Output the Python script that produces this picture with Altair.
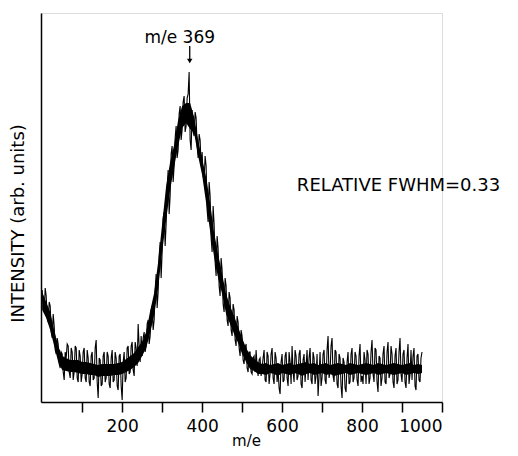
import altair as alt
import pandas as pd

# ---- trace samples (m/e, intensity in arb. units) ----
mass = list(range(0, 955, 5))
intensity = [
    112, 90, 106, 80, 96, 64, 76, 48, 58, 34,      # 0-45
    48, 22, 44, 56, 24, 50, 30, 54, 20, 46,        # 50-95
    28, 54, 20, 44, 16, 50, 24, 62, 4, 42,         # 100-145
    18, 50, 24, 46, 14, 52, 22, 44, 12, 48,        # 150-195
    2, 50, 24, 56, 30, 60, 26, 54, 78, 40,         # 200-245
    46, 70, 56, 82, 66, 96, 82, 128, 110, 160,     # 250-295
    150, 190, 178, 232, 206, 256, 236, 276, 252, 296,  # 300-345
    272, 306, 276, 308, 262, 292, 266, 284, 244, 262,  # 350-395
    250, 222, 236, 180, 206, 150, 178, 126, 154, 106,  # 400-445
    132, 90, 116, 76, 104, 66, 92, 56, 80, 46,     # 450-495
    66, 38, 58, 30, 50, 28, 46, 52, 26, 44,        # 500-545
    34, 52, 20, 46, 28, 54, 18, 44, 32, 8,         # 550-595
    48, 22, 50, 16, 40, 56, 20, 46, 26, 52,        # 600-645
    14, 48, 36, 22, 54, 18, 44, 26, 6, 50,         # 650-695
    24, 52, 18, 66, 30, 64, 20, 50, 14, 44,        # 700-745
    4, 40, 10, 50, 20, 54, 24, 46, 16, 58,         # 750-795
    26, 50, 18, 48, 24, 62, 20, 52, 10, 44,        # 800-845
    24, 56, 18, 60, 28, 48, 14, 54, 22, 64,        # 850-895
    20, 52, 14, 58, 28, 22, 54, 12, 48, 20,        # 900-945
    50,                                            # 950
]

# intermediate samples (m/e 2.5, 7.5, ... 947.5)
mass_mid = [m + 2.5 for m in range(0, 950, 5)]
intensity_mid = [
    94, 114, 84, 100, 70, 88, 52, 64, 38, 50,      # 2.5-47.5
    30, 50, 58, 30, 54, 22, 56, 24, 52, 20,        # 52.5-97.5
    50, 24, 52, 20, 46, 22, 54, 20, 44, 16,        # 102.5-147.5
    46, 20, 50, 18, 44, 20, 50, 16, 46, 16,        # 152.5-197.5
    40, 20, 54, 28, 56, 32, 60, 36, 56, 66,        # 202.5-247.5
    64, 50, 78, 58, 92, 72, 112, 94, 146, 124,     # 252.5-297.5
    184, 156, 214, 188, 248, 220, 264, 244, 288, 262,  # 302.5-347.5
    300, 270, 304, 330, 252, 270, 290, 256, 268, 236,  # 352.5-397.5
    226, 246, 192, 220, 164, 196, 140, 166, 116, 144,  # 402.5-447.5
    98, 124, 82, 110, 72, 98, 62, 86, 54, 72,      # 452.5-497.5
    42, 54, 34, 50, 30, 44, 30, 36, 42, 26,        # 502.5-547.5
    44, 22, 50, 18, 48, 24, 50, 20, 14, 40,        # 552.5-597.5
    20, 46, 24, 50, 18, 30, 52, 22, 48, 18,        # 602.5-647.5
    42, 20, 52, 44, 22, 50, 18, 48, 26, 16,        # 652.5-697.5
    48, 22, 52, 24, 56, 26, 52, 18, 48, 16,        # 702.5-747.5
    44, 14, 40, 18, 48, 20, 50, 22, 46, 20,        # 752.5-797.5
    18, 42, 52, 18, 50, 28, 54, 20, 46, 16,        # 802.5-847.5
    48, 20, 50, 24, 56, 20, 46, 18, 50, 28,        # 852.5-897.5
    48, 20, 44, 18, 52, 46, 16, 46, 22, 44,        # 902.5-947.5
]

# dense core of the noisy trace (lower / upper edge of the solid black band), every 10 m/e
band_mass = list(range(0, 960, 10))
band_low = [
    92, 84, 72, 56, 40, 32, 31, 30, 30, 29,        # 0-90
    28, 28, 27, 27, 25, 26, 26, 26, 27, 27,        # 100-190
    28, 30, 32, 35, 39, 46, 54, 69, 87, 114,       # 200-290
    150, 182, 212, 235, 256, 274, 279, 273, 269, 246,  # 300-390
    227, 199, 171, 145, 124, 108, 88, 78, 68, 59,  # 400-490
    48, 40, 33, 31, 28,                            # 500-540
    28, 27, 29, 28, 26, 29, 28, 27, 29, 28,        # 550-640
    26, 28, 29, 27, 28, 29, 27, 28, 26, 27,        # 650-740
    28, 29, 27, 28, 29, 28, 27, 28, 29, 27,        # 750-840
    28, 29, 28, 27, 28, 29, 27, 28, 29, 28,        # 850-940
    29,                                            # 950
]
band_high = [
    110, 100, 90, 72, 56, 46, 44, 42, 42, 42,      # 0-90
    40, 40, 39, 38, 37, 38, 38, 38, 38, 39,        # 100-190
    40, 43, 46, 49, 55, 60, 70, 91, 109, 140,      # 200-290
    178, 216, 240, 257, 282, 296, 299, 299, 285, 262,  # 300-390
    243, 225, 199, 169, 148, 128, 108, 96, 86, 75,     # 400-490
    64, 54, 47, 43, 40,                            # 500-540
    38, 39, 37, 38, 39, 37, 38, 39, 37, 38,        # 550-640
    39, 40, 38, 39, 37, 38, 39, 37, 38, 39,        # 650-740
    38, 37, 39, 38, 37, 38, 39, 38, 37, 39,        # 750-840
    38, 37, 38, 39, 38, 37, 38, 39, 37, 38,        # 850-940
    37,                                            # 950
]

tick_values = [100, 200, 300, 400, 500, 600, 700, 800, 900, 1000]
peak_label = "m/e 369"
peak_mass = 369
fwhm_label = "RELATIVE FWHM=0.33"

FONT = "DejaVu Sans"

df = pd.concat(
    [
        pd.DataFrame({"mass": mass, "intensity": intensity}),
        pd.DataFrame({"mass": mass_mid, "intensity": intensity_mid}),
    ]
).sort_values("mass")
band = pd.DataFrame({"mass": band_mass, "low": band_low, "high": band_high})

xscale = alt.Scale(domain=[-3, 1000], nice=False, zero=False)
yscale = alt.Scale(domain=[0, 389], nice=False, zero=False)

x_axis = alt.Axis(
    title="m/e",
    values=tick_values,
    format="d",
    labelExpr="datum.value % 200 == 0 ? datum.label : ''",
    grid=False,
    tickSize=10,
    tickWidth=1.5,
    tickColor="black",
    domainColor="black",
    domainWidth=1.5,
    labelFont=FONT,
    labelFontSize=17,
    labelColor="black",
    labelPadding=6,
    titleFont=FONT,
    titleFontSize=15,
    titleFontWeight="normal",
    titleColor="black",
    titleBaseline="alphabetic",
    titleX=205,
    titleY=43,
)
y_axis = alt.Axis(
    title="INTENSITY (arb. units)",
    ticks=False,
    labels=False,
    grid=False,
    domainColor="black",
    domainWidth=1.5,
    titleFont=FONT,
    titleFontSize=18,
    titleFontWeight="normal",
    titleColor="black",
    titleAngle=-90,
    titleAlign="center",
    titleBaseline="middle",
    titleX=-23,
    titleY=210,
)

core = alt.Chart(band).mark_area(color="black", opacity=1, interpolate="linear").encode(
    x=alt.X("mass:Q", scale=xscale, axis=x_axis),
    y=alt.Y("low:Q", scale=yscale, axis=y_axis),
    y2="high:Q",
)

line = alt.Chart(df).mark_line(color="black", strokeWidth=1.1).encode(
    x=alt.X("mass:Q", scale=xscale),
    y=alt.Y("intensity:Q", scale=yscale),
)

ann = pd.DataFrame({"mass": [peak_mass], "label": [peak_label], "top": [356], "bottom": [341]})

arrow_line = alt.Chart(ann).mark_rule(color="black", strokeWidth=1.3).encode(
    x="mass:Q", y="top:Q", y2="bottom:Q"
)
arrow_head = alt.Chart(ann).mark_point(
    shape="triangle-down", filled=True, color="black", size=30, opacity=1
).encode(x="mass:Q", y="bottom:Q")
peak_text = alt.Chart(ann).mark_text(
    font=FONT, fontSize=17, color="black", align="center", baseline="middle", dx=-10
).encode(x="mass:Q", y=alt.value(25), text="label:N")

fwhm = pd.DataFrame({"mass": [637], "v": [216], "label": [fwhm_label]})
fwhm_text = alt.Chart(fwhm).mark_text(
    font=FONT, fontSize=18, color="black", align="left", baseline="middle"
).encode(x="mass:Q", y="v:Q", text="label:N")

chart = (
    alt.layer(core, line, arrow_line, arrow_head, peak_text, fwhm_text)
    .properties(
        width=401,
        height=389,
        autosize=alt.AutoSizeParams(type="none"),
        padding={"left": 33, "top": 5, "right": 68, "bottom": 46},
    )
    .configure_view(stroke=None)
    .configure(background="white")
)

chart.save("out.html", embed_options={"renderer": "svg", "actions": False})
